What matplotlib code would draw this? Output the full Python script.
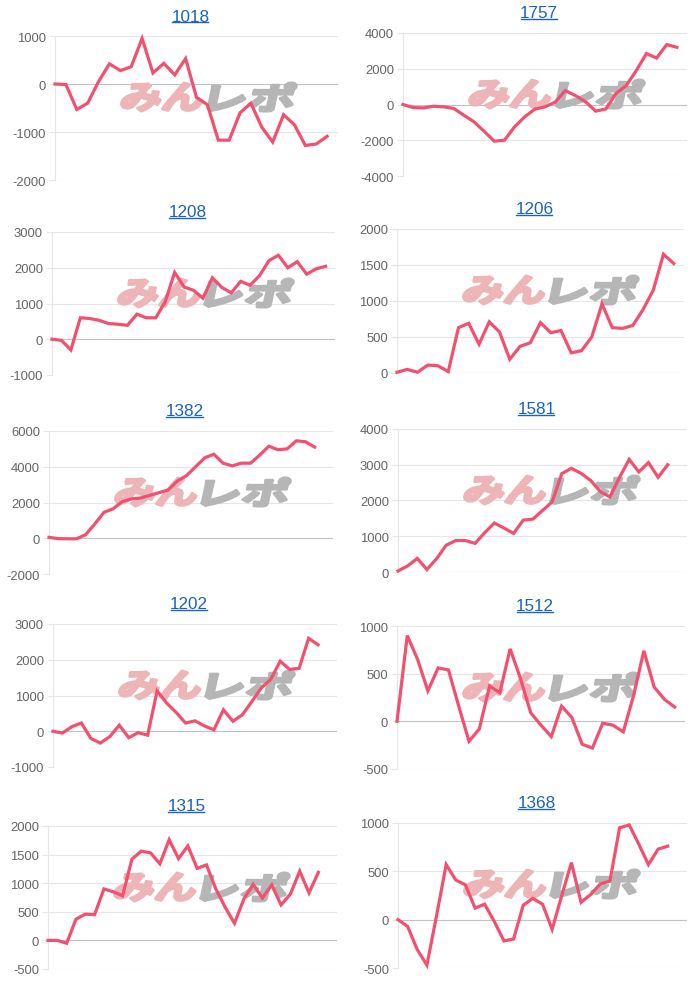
"""
Per-machine difference graphs, 5 x 2 grid of small line charts.
"""

import matplotlib
matplotlib.use("Agg")
import matplotlib.pyplot as plt
from matplotlib.lines import Line2D
from matplotlib.patches import PathPatch
from matplotlib.textpath import TextPath
from matplotlib.font_manager import FontProperties
from matplotlib.transforms import Affine2D

# data
titles = ["1018", "1757", "1208", "1206", "1382", "1581", "1202", "1512", "1315", "1368"]

s1018 = [0, -10, -530, -400, 50, 420, 280, 360, 950, 230, 430, 190, 530, -280, -430,
         -1170, -1170, -600, -400, -900, -1210, -640, -850, -1280, -1250, -1090]
s1757 = [0, -170, -190, -100, -130, -220, -600, -970, -1500, -2050, -2000, -1250, -690,
         -260, -130, 130, 780, 500, 150, -370, -250, 620, 1050, 1900, 2850, 2600, 3350, 3200]
s1208 = [0, -30, -300, 600, 580, 530, 440, 420, 390, 700, 600, 600, 1050, 1870, 1460,
         1370, 1150, 1720, 1450, 1300, 1620, 1510, 1780, 2200, 2350, 2000, 2170, 1820, 1970, 2040]
s1206 = [10, 50, 10, 110, 100, 20, 630, 690, 400, 710, 570, 190, 370, 420, 700, 560, 590,
         280, 310, 500, 960, 630, 620, 660, 880, 1150, 1650, 1520]
s1382 = [50, -20, -30, -30, 200, 800, 1450, 1650, 2050, 2200, 2250, 2400, 2550, 2700, 3200,
         3500, 4000, 4500, 4700, 4200, 4050, 4200, 4200, 4650, 5150, 4950, 5000, 5450, 5400, 5100]
s1581 = [30, 170, 380, 70, 370, 750, 880, 880, 800, 1100, 1370, 1230, 1080, 1450, 1480,
         1720, 1960, 2750, 2900, 2760, 2560, 2250, 2100, 2650, 3150, 2800, 3060, 2650, 3000]
s1202 = [0, -50, 130, 230, -200, -330, -150, 170, -180, -40, -110, 1130, 790, 530, 230,
         290, 150, 40, 600, 280, 460, 830, 1210, 1450, 1960, 1730, 1760, 2600, 2420]
s1512 = [0, 900, 650, 320, 560, 540, 160, -210, -80, 370, 300, 760, 450, 90, -40, -160,
         160, 40, -240, -280, -20, -40, -110, 270, 740, 360, 230, 150]
s1315 = [0, 0, -50, 370, 460, 450, 900, 850, 780, 1420, 1560, 1530, 1340, 1760, 1430,
         1650, 1260, 1320, 900, 580, 300, 720, 980, 740, 970, 620, 810, 1210, 830, 1190]
s1368 = [0, -70, -310, -470, 40, 570, 410, 360, 120, 160, -20, -220, -200, 150, 220, 160,
         -100, 250, 590, 180, 260, 370, 400, 950, 980, 780, 570, 730, 760]

series = [s1018, s1757, s1208, s1206, s1382, s1581, s1202, s1512, s1315, s1368]

# number of label slots on the x axis (more than the data length)
x_slots = [27, 29, 31, 29, 32, 31, 31, 29, 32, 31]

y_ticks = [
    [-2000, -1000, 0, 1000],
    [-4000, -2000, 0, 2000, 4000],
    [-1000, 0, 1000, 2000, 3000],
    [0, 500, 1000, 1500, 2000],
    [-2000, 0, 2000, 4000, 6000],
    [0, 1000, 2000, 3000, 4000],
    [-1000, 0, 1000, 2000, 3000],
    [-500, 0, 500, 1000],
    [-500, 0, 500, 1000, 1500, 2000],
    [-500, 0, 500, 1000],
]

# settings
W, H = 700, 987
LINE_COLOR = "#f2506e"
TITLE_COLOR = "#1a63bf"
GRID_COLOR = "#e6e6e6"
ZERO_COLOR = "#c2c2c2"
TICK_COLOR = "#666666"
# plot area of each panel in pixels: left, right, top, bottom
boxes = [(55, 338, 37, 181), (403, 687, 34, 177),
         (52, 335, 233, 376), (397, 684, 230, 374),
         (49, 333, 432, 575), (398, 687, 430, 573),
         (53, 337, 625, 768), (397, 685, 627, 770),
         (48, 337, 827, 970), (398, 687, 824, 969)]

plt.rcParams['font.family'] = ['Liberation Sans', 'DejaVu Sans']
cjk = FontProperties(family='Noto Sans CJK JP', weight='bold')


def watermark(ax, left, top):
    # logo drawn as skewed text paths in pixel coordinates
    parts = [("みん", "#edb5b7", left + 67, 80), ("レポ", "#b6b6b6", left + 154, 84)]
    for txt, col, x0, w in parts:
        path = TextPath((0, 0), txt, size=40, prop=cjk)
        ext = path.get_extents()
        sx = w / ext.width
        sy = 28 / ext.height
        tr = (Affine2D().translate(-ext.x0, -ext.y0).scale(sx, sy)
              .skew_deg(12, 0).translate(x0 - 2, H - (top + 47) - 28))
        patch = PathPatch(path, transform=tr, facecolor=col, edgecolor=col,
                          lw=2.2, joinstyle='round', zorder=1, clip_on=False)
        ax.add_patch(patch)


fig = plt.figure(figsize=(W / 100, H / 100), dpi=100)

title_texts = []
for i, (title, vals) in enumerate(zip(titles, series)):
    left, right, top, bottom = boxes[i]
    ax = fig.add_axes([left / W, 1 - bottom / H, (right - left) / W, (bottom - top) / H])
    ax.set_facecolor('none')

    ax.plot(range(len(vals)), vals, color=LINE_COLOR, lw=2.3, zorder=3,
            solid_joinstyle='miter', clip_on=False)

    ticks = y_ticks[i]
    ax.set_ylim(ticks[0], ticks[-1])
    ax.set_xlim(0, x_slots[i] - 1)
    ax.set_yticks(ticks)
    ax.set_yticklabels([str(t) for t in ticks])
    ax.set_xticks([])

    # grid lines
    for t in ticks:
        ax.axhline(t, color=ZERO_COLOR if t == 0 else GRID_COLOR, lw=0.8, zorder=0.5)
    for side in ['top', 'right', 'bottom']:
        ax.spines[side].set_visible(False)
    ax.spines['left'].set_color(GRID_COLOR)
    ax.spines['left'].set_linewidth(0.8)
    ax.tick_params(axis='y', length=4.5, width=0.8, color=GRID_COLOR, pad=2,
                   labelsize=9.4, labelcolor=TICK_COLOR)

    watermark(ax, left, top)

    # title
    tx = fig.text((left + right) / 2 / W - 6 / W, 1 - (top - 20) / H, title,
                  ha='center', va='center', fontsize=12.3, color=TITLE_COLOR)
    title_texts.append(tx)

# underline the titles
fig.canvas.draw()
renderer = fig.canvas.get_renderer()
for tx in title_texts:
    bb = tx.get_window_extent(renderer)
    y = bb.y0 + 2
    fig.add_artist(Line2D([(bb.x0 + 0.5) / W, (bb.x1 - 1.5) / W], [y / H, y / H],
                          color=TITLE_COLOR, lw=1.0))

fig.savefig("out.png", dpi=100)
